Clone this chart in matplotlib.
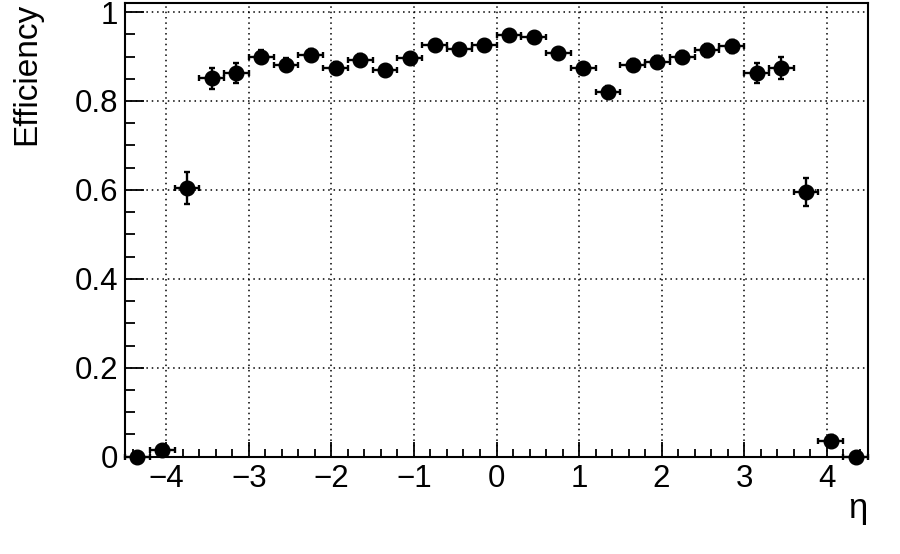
import matplotlib
matplotlib.use("Agg")
import matplotlib.pyplot as plt
from matplotlib.ticker import MultipleLocator, FuncFormatter

plt.rcParams['font.family'] = ['Liberation Sans', 'DejaVu Sans']

eta = [-4.35, -4.05, -3.75, -3.45, -3.15, -2.85, -2.55, -2.25, -1.95, -1.65,
       -1.35, -1.05, -0.75, -0.45, -0.15, 0.15, 0.45, 0.75, 1.05, 1.35,
       1.65, 1.95, 2.25, 2.55, 2.85, 3.15, 3.45, 3.75, 4.05, 4.35]
eff = [0.0, 0.014, 0.604, 0.851, 0.863, 0.900, 0.882, 0.903, 0.874, 0.893,
       0.869, 0.897, 0.925, 0.918, 0.925, 0.949, 0.944, 0.908, 0.874, 0.820,
       0.882, 0.888, 0.899, 0.914, 0.923, 0.863, 0.875, 0.595, 0.036, 0.0]
eff_err = [0.0, 0.008, 0.036, 0.023, 0.022, 0.015, 0.015, 0.013, 0.014, 0.013,
           0.013, 0.012, 0.011, 0.011, 0.011, 0.010, 0.010, 0.011, 0.012, 0.013,
           0.013, 0.013, 0.014, 0.015, 0.015, 0.023, 0.025, 0.032, 0.012, 0.0]
bin_half = [0.15] * len(eta)

fig = plt.figure(figsize=(9.0, 5.54), dpi=100)
ax = fig.add_axes([125/900, 1 - 456.7/554, (868 - 125)/900, (456.7 - 2.7)/554])

ax.errorbar(eta, eff, yerr=eff_err, xerr=bin_half, fmt='o', color='black',
            markersize=10.5, elinewidth=1.7, capsize=2.2, capthick=1.7,
            clip_on=False, zorder=3)

ax.set_xlim(-4.5, 4.5)
ax.set_ylim(0, 1.021)

ax.xaxis.set_major_locator(MultipleLocator(1))
ax.xaxis.set_minor_locator(MultipleLocator(0.2))
ax.yaxis.set_major_locator(MultipleLocator(0.2))
ax.yaxis.set_minor_locator(MultipleLocator(0.05))

def yfmt(v, pos):
    if abs(v) < 1e-9:
        return "0"
    if abs(v - 1) < 1e-9:
        return "1"
    return f"{v:.1f}"

def xfmt(v, pos):
    return f"{int(round(v))}".replace('-', '\u2212')

ax.yaxis.set_major_formatter(FuncFormatter(yfmt))
ax.xaxis.set_major_formatter(FuncFormatter(xfmt))

ax.tick_params(axis='both', which='both', direction='in', top=False, right=False,
               width=1.3, labelsize=22.5)
ax.tick_params(axis='y', which='major', length=13.5, pad=5)
ax.tick_params(axis='y', which='minor', length=7)
ax.tick_params(axis='x', which='major', length=11, pad=5)
ax.tick_params(axis='x', which='minor', length=6)

ax.grid(True, which='major', color='black', linestyle=(0, (1, 2.5)), linewidth=1.1)
ax.set_axisbelow(True)

for s in ax.spines.values():
    s.set_linewidth(1.5)

fig.text(27/900, 1 - 3/554, 'Efficiency', rotation=90, ha='center', va='top', fontsize=24)
fig.text(867/900, 1 - 518/554, '\u03b7', ha='right', va='baseline', fontsize=25)

fig.savefig('out.png', dpi=100)
